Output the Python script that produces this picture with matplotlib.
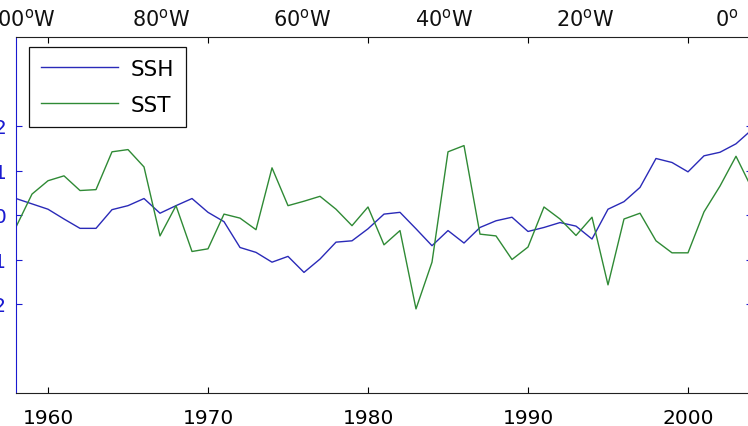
import matplotlib
matplotlib.use("Agg")
import matplotlib.pyplot as plt

plt.rcParams['font.family'] = ['DejaVu Sans']
plt.rcParams['mathtext.fontset'] = 'dejavusans'

years = list(range(1958, 2005))
ssh = [0.37, 0.25, 0.13, -0.09, -0.30, -0.30, 0.12, 0.21, 0.37, 0.04,
       0.21, 0.37, 0.06, -0.15, -0.73, -0.84, -1.06, -0.93, -1.29, -0.99,
       -0.61, -0.58, -0.31, 0.02, 0.06, -0.31, -0.69, -0.35, -0.63, -0.28,
       -0.13, -0.05, -0.37, -0.28, -0.17, -0.25, -0.54, 0.13, 0.30, 0.62,
       1.27, 1.18, 0.97, 1.33, 1.41, 1.60, 1.92]
sst = [-0.27, 0.47, 0.77, 0.88, 0.55, 0.57, 1.42, 1.47, 1.08, -0.47,
       0.21, -0.82, -0.76, 0.02, -0.07, -0.33, 1.06, 0.21, 0.31, 0.42,
       0.13, -0.24, 0.18, -0.67, -0.35, -2.11, -1.06, 1.42, 1.56, -0.43,
       -0.47, -1.00, -0.72, 0.18, -0.09, -0.46, -0.05, -1.57, -0.09, 0.04,
       -0.58, -0.85, -0.85, 0.07, 0.65, 1.32, 0.59]
yticks = [-2, -1, 0, 1, 2]
xticks = [1960, 1970, 1980, 1990, 2000]
lon_vals = [-100, -80, -60, -40, -20, 0]
lon_labels = ['100$^{\\mathrm{o}}$W', '80$^{\\mathrm{o}}$W', '60$^{\\mathrm{o}}$W',
              '40$^{\\mathrm{o}}$W', '20$^{\\mathrm{o}}$W', '0$^{\\mathrm{o}}$']

W, H = 748, 427
fig = plt.figure(figsize=(W / 100, H / 100), dpi=100)
ax = fig.add_axes([16 / W, (H - 394) / H, 736 / W, 356 / H])

blue = '#2a2ab8'
green = '#2f8a35'
ax.plot(years, ssh, color=blue, lw=1.0, label='SSH')
ax.plot(years, sst, color=green, lw=1.0, label='SST')

ax.set_xlim(1958, 2004)
ax.set_ylim(-4, 4)
ax.set_xticks(xticks)
ax.set_xticklabels([str(x) for x in xticks])
ax.set_yticks(yticks)
ax.set_yticklabels([str(v) for v in yticks])
ax.tick_params(axis='both', direction='in', length=4, width=0.8, labelsize=14.5,
               top=True, right=True)
ax.tick_params(axis='x', pad=11)
ax.tick_params(axis='y', colors='#1a1ad0', pad=7)
for s in ['top', 'bottom', 'right']:
    ax.spines[s].set_color('#222222')
    ax.spines[s].set_linewidth(0.8)
ax.spines['left'].set_color('#1a1ad0')
ax.spines['left'].set_linewidth(0.8)

leg = ax.legend(loc='upper left', bbox_to_anchor=((29 - 16) / 736, (394 - 48) / 356),
                borderaxespad=0, fancybox=False, framealpha=1, edgecolor='#111111',
                fontsize=15.5, handlelength=3.6, handletextpad=0.55, labelspacing=0.75,
                borderpad=0.55)
leg.get_frame().set_linewidth(0.9)

# longitude labels from the map panel above (partially visible)
axt = fig.add_axes([0, (H - 34) / H, 1, 34 / H])
axt.set_xlim(-727 / 7.075, (W - 727) / 7.075)
axt.set_ylim(0, 1)
axt.axis('off')
for lv, lt in zip(lon_vals, lon_labels):
    axt.text(lv, 0.42, lt, ha='center', va='center', fontsize=15, color='#111111')

fig.savefig('out.png', dpi=100, facecolor='white')
